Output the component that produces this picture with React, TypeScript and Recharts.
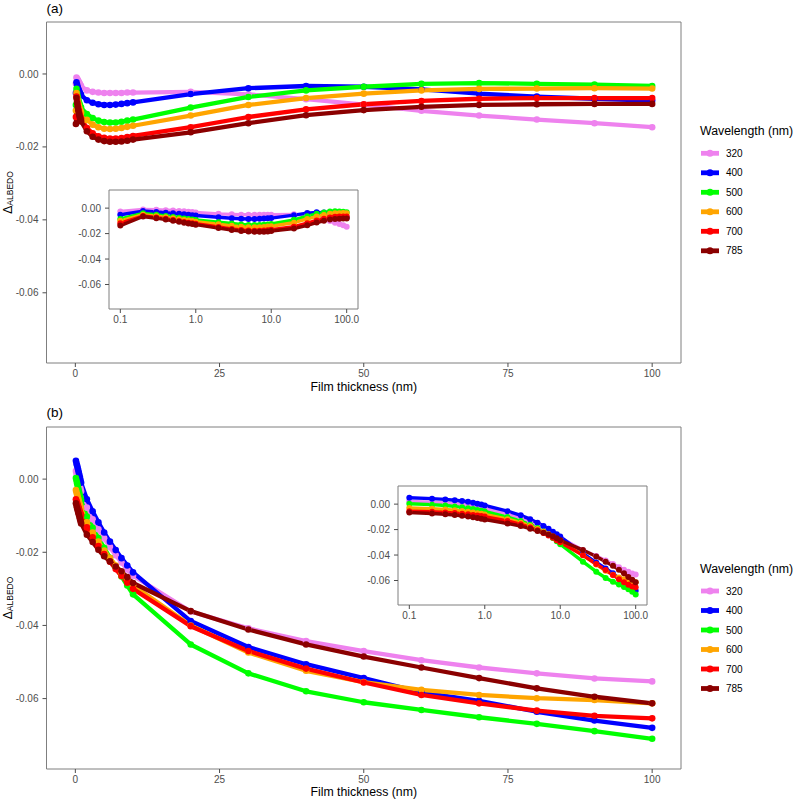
import React from 'react';
import { LineChart, Line, XAxis, YAxis, ReferenceArea } from 'recharts';

const FONT = "'Liberation Sans', Arial, Helvetica, sans-serif";

const thickness = [0.1, 0.2, 0.3, 0.4, 0.5, 0.6, 0.7, 0.8, 0.9, 1, 2, 3, 4, 5, 6, 7, 8, 9, 10, 20, 30, 40, 50, 60, 70, 80, 90, 100];
const wavelengths = ['320', '400', '500', '600', '700', '785'];
const colors = ['#EE82EE', '#0000FF', '#00FF00', '#FFA500', '#FF0000', '#8B0000'];
const xTicks = [0, 25, 50, 75, 100];
const logTicks = [0.1, 1, 10, 100];
const yTicks = [-0.06, -0.04, -0.02, 0];

// Panel (a)
const a320 = [-0.0026, -0.0010, -0.0013, -0.0016, -0.0019, -0.0022, -0.0025, -0.0028, -0.0031, -0.0034, -0.0045, -0.0049, -0.0051, -0.0052, -0.0052, -0.0052, -0.0052, -0.0051, -0.0051, -0.0049, -0.0056, -0.0069, -0.0084, -0.0101, -0.0114, -0.0125, -0.0135, -0.0146];
const a400 = [-0.0052, -0.0023, -0.0030, -0.0036, -0.0041, -0.0045, -0.0049, -0.0052, -0.0055, -0.0058, -0.0072, -0.0079, -0.0083, -0.0085, -0.0085, -0.0084, -0.0082, -0.0080, -0.0078, -0.0055, -0.0039, -0.0033, -0.0035, -0.0042, -0.0054, -0.0062, -0.0068, -0.0073];
const a500 = [-0.0085, -0.0041, -0.0052, -0.0061, -0.0069, -0.0076, -0.0081, -0.0086, -0.0090, -0.0093, -0.0110, -0.0121, -0.0128, -0.0132, -0.0133, -0.0133, -0.0131, -0.0128, -0.0125, -0.0092, -0.0063, -0.0045, -0.0035, -0.0027, -0.0025, -0.0027, -0.0029, -0.0033];
const a600 = [-0.0100, -0.0052, -0.0063, -0.0072, -0.0080, -0.0087, -0.0093, -0.0098, -0.0102, -0.0106, -0.0126, -0.0139, -0.0146, -0.0150, -0.0151, -0.0150, -0.0148, -0.0145, -0.0142, -0.0114, -0.0085, -0.0066, -0.0054, -0.0045, -0.0041, -0.0040, -0.0039, -0.0040];
const a700 = [-0.0118, -0.0062, -0.0074, -0.0084, -0.0093, -0.0101, -0.0108, -0.0114, -0.0119, -0.0123, -0.0148, -0.0163, -0.0171, -0.0175, -0.0177, -0.0177, -0.0176, -0.0173, -0.0170, -0.0146, -0.0118, -0.0097, -0.0083, -0.0074, -0.0068, -0.0066, -0.0066, -0.0066];
const a785 = [-0.0137, -0.0066, -0.0079, -0.0090, -0.0099, -0.0107, -0.0114, -0.0120, -0.0125, -0.0130, -0.0157, -0.0172, -0.0180, -0.0184, -0.0186, -0.0186, -0.0185, -0.0183, -0.0180, -0.0160, -0.0135, -0.0113, -0.0099, -0.0090, -0.0085, -0.0083, -0.0082, -0.0082];

// Panel (b)
const b320 = [0.0022, 0.0015, 0.0009, 0.0003, -0.0003, -0.0009, -0.0015, -0.0021, -0.0027, -0.0033, -0.0078, -0.0110, -0.0137, -0.0162, -0.0186, -0.0208, -0.0228, -0.0247, -0.0264, -0.0362, -0.0408, -0.0443, -0.0470, -0.0495, -0.0515, -0.0531, -0.0545, -0.0553];
const b400 = [0.0050, 0.0043, 0.0037, 0.0031, 0.0025, 0.0018, 0.0011, 0.0004, -0.0003, -0.0010, -0.0055, -0.0088, -0.0118, -0.0146, -0.0171, -0.0194, -0.0216, -0.0236, -0.0255, -0.0388, -0.0459, -0.0506, -0.0544, -0.0583, -0.0606, -0.0636, -0.0660, -0.0680];
const b500 = [0.0003, -0.0004, -0.0011, -0.0018, -0.0025, -0.0032, -0.0039, -0.0046, -0.0052, -0.0058, -0.0102, -0.0133, -0.0161, -0.0188, -0.0215, -0.0241, -0.0266, -0.0291, -0.0315, -0.0452, -0.0531, -0.0580, -0.0610, -0.0631, -0.0651, -0.0669, -0.0689, -0.0710];
const b600 = [-0.0030, -0.0036, -0.0042, -0.0048, -0.0054, -0.0060, -0.0066, -0.0071, -0.0076, -0.0081, -0.0118, -0.0146, -0.0171, -0.0195, -0.0216, -0.0236, -0.0255, -0.0273, -0.0290, -0.0400, -0.0474, -0.0524, -0.0555, -0.0576, -0.0590, -0.0599, -0.0604, -0.0613];
const b700 = [-0.0055, -0.0060, -0.0065, -0.0070, -0.0075, -0.0080, -0.0085, -0.0090, -0.0094, -0.0098, -0.0132, -0.0159, -0.0183, -0.0205, -0.0226, -0.0246, -0.0265, -0.0283, -0.0300, -0.0402, -0.0470, -0.0518, -0.0556, -0.0590, -0.0613, -0.0633, -0.0647, -0.0654];
const b785 = [-0.0066, -0.0073, -0.0079, -0.0085, -0.0091, -0.0097, -0.0103, -0.0109, -0.0115, -0.0121, -0.0152, -0.0172, -0.0193, -0.0211, -0.0225, -0.0239, -0.0252, -0.0268, -0.0284, -0.0361, -0.0411, -0.0452, -0.0485, -0.0515, -0.0544, -0.0572, -0.0595, -0.0613];

const Y_MIN = -0.07925;
const Y_MAX = 0.01425;
const LOG_MIN = Math.pow(10, -1.15);
const LOG_MAX = Math.pow(10, 2.15);

function buildRows(series: number[][]) {
  return thickness.map((t, i) => {
    const row: any = { t };
    wavelengths.forEach((w, k) => {
      row['w' + w] = series[k][i];
    });
    return row;
  });
}

const rowsA = buildRows([a320, a400, a500, a600, a700, a785]);
const rowsB = buildRows([b320, b400, b500, b600, b700, b785]);

const fmtY = (v: number) => (Math.abs(v) < 1e-9 ? '0.00' : v.toFixed(2));
const fmtLog = (v: number) => v.toFixed(1);

const tickStyle = { fill: '#4d4d4d', fontSize: 10, fontFamily: FONT };

function seriesLines(sw: number, r: number) {
  return wavelengths.map((w, k) => (
    <Line
      key={w}
      type="linear"
      dataKey={'w' + w}
      stroke={colors[k]}
      strokeWidth={sw}
      strokeLinejoin="round"
      strokeLinecap="round"
      dot={{ r, fill: colors[k], stroke: 'none', strokeWidth: 0 }}
      activeDot={false}
      isAnimationActive={false}
    />
  ));
}

function MainChart({ rows, top, height, marginTop, xAxisHeight }: any) {
  return (
    <div style={{ position: 'absolute', left: 0, top, width: 795, height }}>
      <LineChart width={795} height={height} data={rows} margin={{ top: marginTop, right: 114, bottom: 0, left: 0 }}>
        <XAxis
          dataKey="t"
          type="number"
          domain={[-5, 105]}
          ticks={xTicks}
          allowDataOverflow
          axisLine={false}
          tickLine={{ stroke: '#4d4d4d' }}
          tickSize={4}
          tickMargin={3}
          height={xAxisHeight}
          tick={tickStyle}
          interval={0}
        />
        <YAxis
          type="number"
          domain={[Y_MIN, Y_MAX]}
          ticks={yTicks}
          allowDataOverflow
          width={46.5}
          axisLine={false}
          tickLine={{ stroke: '#4d4d4d' }}
          tickSize={4}
          tickMargin={4}
          tickFormatter={fmtY}
          tick={tickStyle}
          interval={0}
        />
        <ReferenceArea x1={-5} x2={105} y1={Y_MIN} y2={Y_MAX} fill="none" fillOpacity={0} stroke="#7f7f7f" strokeWidth={1} />
        {seriesLines(4.3, 3.3)}
      </LineChart>
    </div>
  );
}

function InsetChart({ rows, left, top }: any) {
  return (
    <div style={{ position: 'absolute', left, top, width: 299, height: 149 }}>
      <LineChart width={299} height={149} data={rows} margin={{ top: 5, right: 10, bottom: 0, left: 0 }}>
        <XAxis
          dataKey="t"
          type="number"
          scale="log"
          domain={[LOG_MIN, LOG_MAX]}
          ticks={logTicks}
          allowDataOverflow
          axisLine={false}
          tickLine={{ stroke: '#4d4d4d' }}
          tickSize={4}
          tickMargin={3}
          height={25}
          tick={tickStyle}
          tickFormatter={fmtLog}
          interval={0}
        />
        <YAxis
          type="number"
          domain={[Y_MIN, Y_MAX]}
          ticks={yTicks}
          allowDataOverflow
          width={40}
          axisLine={false}
          tickLine={{ stroke: '#4d4d4d' }}
          tickSize={4}
          tickMargin={4}
          tickFormatter={fmtY}
          tick={tickStyle}
          interval={0}
        />
        <ReferenceArea x1={LOG_MIN} x2={LOG_MAX} y1={Y_MIN} y2={Y_MAX} fill="none" fillOpacity={0} stroke="#7f7f7f" strokeWidth={1} />
        {seriesLines(3.4, 3)}
      </LineChart>
    </div>
  );
}

function LegendBlock({ y0 }: { y0: number }) {
  return (
    <g fontFamily={FONT}>
      <text x={700} y={y0 - 18} fontSize={12.3} fill="#000">Wavelength (nm)</text>
      {wavelengths.map((w, k) => {
        const cy = y0 + k * 19.5;
        return (
          <g key={w}>
            <line x1={701} x2={719} y1={cy} y2={cy} stroke={colors[k]} strokeWidth={4.8} />
            <circle cx={710} cy={cy} r={3.5} fill={colors[k]} />
            <text x={726} y={cy} dy="0.35em" fontSize={10} fill="#000">{w}</text>
          </g>
        );
      })}
    </g>
  );
}

function YTitle({ cy }: { cy: number }) {
  return (
    <text transform={`translate(12, ${cy}) rotate(-90)`} textAnchor="middle" fontFamily={FONT} fontSize={12.3} fill="#000">
      Δ<tspan fontSize={8.5} dy={1}>ALBEDO</tspan>
    </text>
  );
}

export default function App() {
  return (
    <div style={{ position: 'absolute', left: 0, top: 0, width: 795, height: 801, background: '#fff', fontFamily: FONT }}>
      <MainChart rows={rowsA} top={0} height={400} marginTop={22} xAxisHeight={37} />
      <MainChart rows={rowsB} top={400} height={401} marginTop={27} xAxisHeight={32} />
      <InsetChart rows={rowsA} left={69} top={185} />
      <InsetChart rows={rowsB} left={358} top={481} />
      <svg width={795} height={801} style={{ position: 'absolute', left: 0, top: 0, pointerEvents: 'none' }}>
        <text x={46.5} y={12.5} fontFamily={FONT} fontSize={13.5} fill="#000">(a)</text>
        <text x={46.5} y={416.5} fontFamily={FONT} fontSize={13.5} fill="#000">(b)</text>
        <text x={363.75} y={391} textAnchor="middle" fontFamily={FONT} fontSize={12.3} fill="#000">Film thickness (nm)</text>
        <text x={363.75} y={796} textAnchor="middle" fontFamily={FONT} fontSize={12.3} fill="#000">Film thickness (nm)</text>
        <YTitle cy={192.5} />
        <YTitle cy={598} />
        <LegendBlock y0={153.3} />
        <LegendBlock y0={591} />
      </svg>
    </div>
  );
}
